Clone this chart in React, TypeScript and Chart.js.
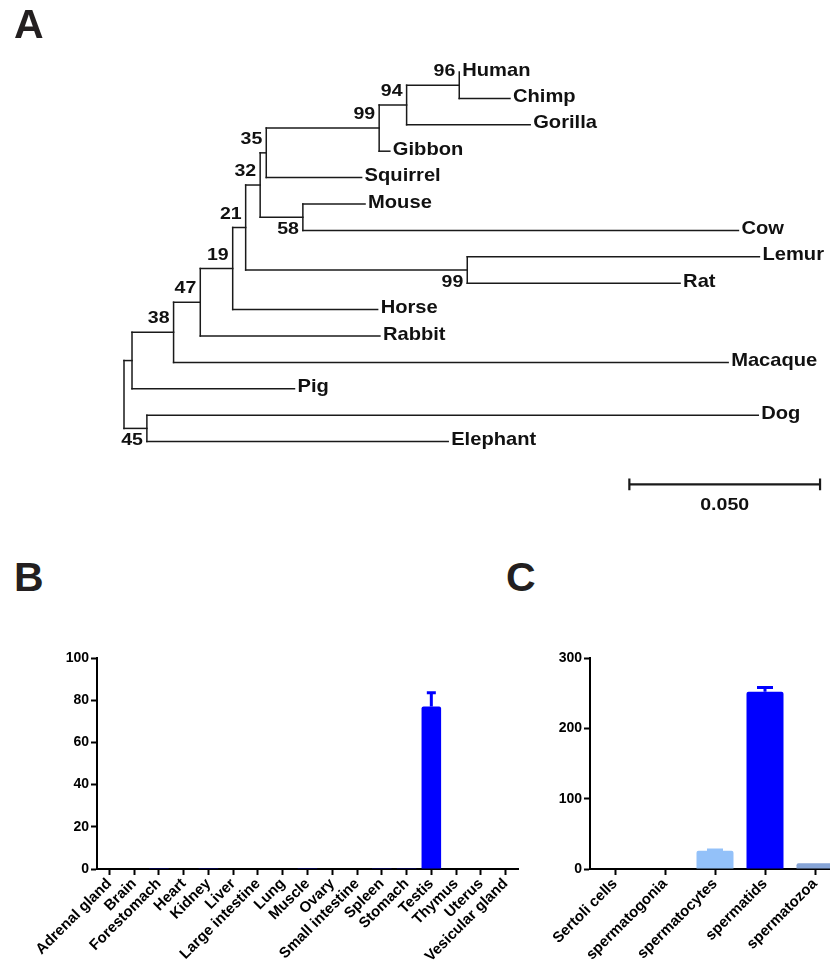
import React, { useEffect, useRef } from "react";
import { Chart, registerables } from "chart.js";
Chart.register(...registerables);

const FONT = '"Liberation Sans", Arial, Helvetica, sans-serif';
const INK = "#111111";

// ---------- Panel A: phylogenetic tree ----------
const leafNames = ["Human", "Chimp", "Gorilla", "Gibbon", "Squirrel", "Mouse", "Cow", "Lemur", "Rat", "Horse", "Rabbit", "Macaque", "Pig", "Dog", "Elephant"];
// distance from root for each leaf
const leafDepths = [0.0879, 0.1012, 0.1065, 0.0697, 0.0623, 0.0632, 0.1611, 0.1666, 0.1458, 0.0665, 0.0671, 0.1584, 0.0447, 0.1663, 0.085];
// internal nodes (children listed before parents); L = leaf index, N = node index
const nodeChildren = [
  ["L0", "L1"],
  ["N0", "L2"],
  ["N1", "L3"],
  ["N2", "L4"],
  ["L5", "L6"],
  ["N3", "N4"],
  ["L7", "L8"],
  ["N5", "N6"],
  ["N7", "L9"],
  ["N8", "L10"],
  ["N9", "L11"],
  ["N10", "L12"],
  ["L13", "L14"],
  ["N11", "N12"],
];
const nodeDepths = [0.0879, 0.0741, 0.0669, 0.0373, 0.0469, 0.0357, 0.09, 0.0319, 0.0285, 0.02, 0.013, 0.0021, 0.006, 0];
const nodeSupport = ["96", "94", "99", "35", "58", "32", "99", "21", "19", "47", "38", "", "45", ""];
const nodeSupportBelow = [false, false, false, false, true, false, true, false, false, false, false, false, true, false];
const scaleBarStart = 0.1325;
const scaleBarLength = 0.05;
const scaleBarLabel = "0.050";
const scaleBarRow = 15.62;

// ---------- Panel B ----------
const tissues = ["Adrenal gland", "Brain", "Forestomach", "Heart", "Kidney", "Liver", "Large intestine", "Lung", "Muscle", "Ovary", "Small intestine", "Spleen", "Stomach", "Testis", "Thymus", "Uterus", "Vesicular gland"];
const tissueValues = [0, 0, 0.3, 0, 0.3, 0, 0, 0, 0.3, 0, 0, 0.3, 0.4, 77, 0, 0, 0];
const tissueErrors = [0, 0, 0, 0, 0, 0, 0, 0, 0, 0, 0, 0, 0, 6.5, 0, 0, 0];
const tissueTicks = [0, 20, 40, 60, 80, 100];

// ---------- Panel C ----------
const cellTypes = ["Sertoli cells", "spermatogonia", "spermatocytes", "spermatids", "spermatozoa"];
const cellValues = [0, 0, 26, 252, 8];
const cellErrors = [0, 0, 1, 6, 0];
const cellColors = ["#0000ff", "#0000ff", "#93c1f9", "#0000ff", "#86a4d6"];
const cellTicks = [0, 100, 200, 300];

function refIndex(ref: string) {
  return parseInt(ref.slice(1), 10);
}

function buildTree() {
  const nodeY: number[] = [];
  const yOf = (r: string) => (r[0] === "L" ? refIndex(r) : nodeY[refIndex(r)]);
  const xOf = (r: string) => (r[0] === "L" ? leafDepths[refIndex(r)] : nodeDepths[refIndex(r)]);
  const segments: { x: number; y: number }[][] = [];
  nodeChildren.forEach((ch, i) => {
    const y0 = yOf(ch[0]);
    const y1 = yOf(ch[ch.length - 1]);
    nodeY[i] = (y0 + y1) / 2;
    const d = nodeDepths[i];
    segments.push([{ x: d, y: y0 }, { x: d, y: y1 }]);
    ch.forEach((c) => {
      const cx = xOf(c);
      if (cx > d) segments.push([{ x: d, y: yOf(c) }, { x: cx, y: yOf(c) }]);
    });
  });
  return { nodeY, segments };
}

function drawStretched(ctx: CanvasRenderingContext2D, text: string, x: number, y: number, sx: number, align: "left" | "right" | "center") {
  const w = ctx.measureText(text).width * sx;
  let left = x;
  if (align === "right") left = x - w;
  if (align === "center") left = x - w / 2;
  ctx.save();
  ctx.translate(left, y);
  ctx.scale(sx, 1);
  ctx.textAlign = "left";
  ctx.fillText(text, 0, 0);
  ctx.restore();
}

const TREE_W = 830;
const TREE_H = 540;
const ROOT_PX = 124;
const PX_PER_UNIT = 3814;
const ROW0_PX = 72;
const ROW_PX = 26.4;

function TreeChart() {
  const ref = useRef<HTMLCanvasElement>(null);
  useEffect(() => {
    const { nodeY, segments } = buildTree();
    const datasets: any[] = segments.map((seg) => ({
      data: seg,
      showLine: true,
      borderColor: "#1a1a1a",
      borderWidth: 1.5,
      borderCapStyle: "square",
      pointRadius: 0,
      fill: false,
      tension: 0,
    }));
    const sb = [
      [{ x: scaleBarStart, y: scaleBarRow }, { x: scaleBarStart + scaleBarLength, y: scaleBarRow }],
      [{ x: scaleBarStart, y: scaleBarRow - 0.22 }, { x: scaleBarStart, y: scaleBarRow + 0.22 }],
      [{ x: scaleBarStart + scaleBarLength, y: scaleBarRow - 0.22 }, { x: scaleBarStart + scaleBarLength, y: scaleBarRow + 0.22 }],
    ];
    sb.forEach((seg) =>
      datasets.push({ data: seg, showLine: true, borderColor: "#1a1a1a", borderWidth: 2.2, pointRadius: 0, fill: false, tension: 0 })
    );

    const labels = {
      id: "treeLabels",
      afterDatasetsDraw(chart: any) {
        const ctx = chart.ctx as CanvasRenderingContext2D;
        const xs = chart.scales.x;
        const ys = chart.scales.y;
        ctx.save();
        ctx.fillStyle = INK;
        ctx.textBaseline = "alphabetic";
        ctx.font = `bold 19px ${FONT}`;
        leafNames.forEach((n, i) => {
          drawStretched(ctx, n, xs.getPixelForValue(leafDepths[i]) + 3, ys.getPixelForValue(i) + 3.5, 1.06, "left");
        });
        ctx.font = `bold 17px ${FONT}`;
        nodeSupport.forEach((s, i) => {
          if (!s) return;
          const px = xs.getPixelForValue(nodeDepths[i]) - 4;
          const py = ys.getPixelForValue(nodeY[i]) + (nodeSupportBelow[i] ? 11 : -15) + 6;
          drawStretched(ctx, s, px, py, 1.15, "right");
        });
        const mid = xs.getPixelForValue(scaleBarStart + scaleBarLength / 2);
        drawStretched(ctx, scaleBarLabel, mid, ys.getPixelForValue(scaleBarRow) + 26, 1.15, "center");
        ctx.restore();
      },
    };

    const chart = new Chart(ref.current as HTMLCanvasElement, {
      type: "scatter",
      data: { datasets },
      options: {
        responsive: false,
        animation: false,
        layout: { padding: 0 },
        plugins: { legend: { display: false }, tooltip: { enabled: false } },
        scales: {
          x: { type: "linear", display: false, min: -ROOT_PX / PX_PER_UNIT, max: (TREE_W - ROOT_PX) / PX_PER_UNIT },
          y: { type: "linear", display: false, reverse: true, min: -ROW0_PX / ROW_PX, max: (TREE_H - ROW0_PX) / ROW_PX },
        },
      } as any,
      plugins: [labels],
    });
    return () => chart.destroy();
  }, []);
  return <canvas ref={ref} width={TREE_W} height={TREE_H} style={{ position: "absolute", left: 0, top: 0 }} />;
}

const errorBars = {
  id: "errorBars",
  afterDatasetsDraw(chart: any, _args: any, opts: any) {
    const ctx = chart.ctx as CanvasRenderingContext2D;
    const meta = chart.getDatasetMeta(0);
    const ys = chart.scales.y;
    const vals: number[] = opts.values;
    const errs: number[] = opts.errors;
    const colors: string[] = opts.colors;
    ctx.save();
    meta.data.forEach((bar: any, i: number) => {
      const e = errs[i];
      if (!e) return;
      const top = ys.getPixelForValue(vals[i] + e);
      ctx.strokeStyle = colors[i];
      ctx.lineWidth = 3;
      ctx.beginPath();
      ctx.moveTo(bar.x, bar.y);
      ctx.lineTo(bar.x, top);
      ctx.moveTo(bar.x - opts.cap / 2, top);
      ctx.lineTo(bar.x + opts.cap / 2, top);
      ctx.stroke();
    });
    ctx.restore();
  },
};

function axisStyle(extra: any) {
  return {
    grid: { display: true, drawOnChartArea: false, drawTicks: true, tickLength: 6, tickWidth: 2, tickColor: "#000", offset: false },
    border: { display: true, color: "#000", width: 2 },
    ...extra,
  };
}

function BarChart(props: {
  labels: string[];
  values: number[];
  errors: number[];
  colors: string[];
  ticks: number[];
  width: number;
  height: number;
  padLeft: number;
  padRight: number;
  yWidth: number;
  barPct: number;
  cap: number;
}) {
  const ref = useRef<HTMLCanvasElement>(null);
  useEffect(() => {
    const p = props;
    const chart = new Chart(ref.current as HTMLCanvasElement, {
      type: "bar",
      data: {
        labels: p.labels,
        datasets: [
          {
            data: p.values,
            backgroundColor: p.colors,
            borderWidth: 0,
            borderRadius: { topLeft: 2, topRight: 2 },
            borderSkipped: "bottom",
            barPercentage: p.barPct,
            categoryPercentage: 1,
          },
        ],
      },
      options: {
        responsive: false,
        animation: false,
        layout: { padding: { left: p.padLeft, right: p.padRight, top: 18, bottom: 0 } },
        plugins: {
          legend: { display: false },
          tooltip: { enabled: false },
          errorBars: { values: p.values, errors: p.errors, colors: p.colors, cap: p.cap },
        },
        scales: {
          x: axisStyle({
            type: "category",
            offset: true,
            ticks: { color: "#000", font: { family: FONT, size: 15, weight: "bold" }, minRotation: 45, maxRotation: 45, autoSkip: false, padding: 0 },
            afterFit: (s: any) => {
              s.height = 99;
            },
          }),
          y: axisStyle({
            type: "linear",
            min: p.ticks[0],
            max: p.ticks[p.ticks.length - 1],
            afterBuildTicks: (s: any) => {
              s.ticks = p.ticks.map((v) => ({ value: v }));
            },
            ticks: { color: "#000", font: { family: FONT, size: 14, weight: "bold" }, padding: 2 },
            afterFit: (s: any) => {
              s.width = p.yWidth;
            },
          }),
        },
      } as any,
      plugins: [errorBars],
    });
    return () => chart.destroy();
  }, []);
  return <canvas ref={ref} width={props.width} height={props.height} style={{ display: "block" }} />;
}

const letterStyle = (left: number, top: number): React.CSSProperties => ({
  position: "absolute",
  left,
  top,
  fontFamily: FONT,
  fontWeight: "bold",
  fontSize: 41,
  lineHeight: "41px",
  color: "#231f20",
});

export default function App() {
  return (
    <div style={{ position: "absolute", left: 0, top: 0, width: 830, height: 968, background: "#fff", overflow: "hidden" }}>
      <TreeChart />
      <div style={letterStyle(14, 4)}>A</div>
      <div style={letterStyle(14, 557)}>B</div>
      <div style={letterStyle(506, 557)}>C</div>
      <div style={{ position: "absolute", left: 0, top: 640, width: 540, height: 328 }}>
        <BarChart
          labels={tissues}
          values={tissueValues}
          errors={tissueErrors}
          colors={tissues.map(() => "#0000ff")}
          ticks={tissueTicks}
          width={540}
          height={328}
          padLeft={52}
          padRight={22}
          yWidth={45}
          barPct={0.79}
          cap={9}
        />
      </div>
      <div style={{ position: "absolute", left: 540, top: 640, width: 290, height: 328, overflow: "hidden" }}>
        <BarChart
          labels={cellTypes}
          values={cellValues}
          errors={cellErrors}
          colors={cellColors}
          ticks={cellTicks}
          width={300}
          height={328}
          padLeft={10}
          padRight={0}
          yWidth={40}
          barPct={0.74}
          cap={16}
        />
      </div>
    </div>
  );
}
